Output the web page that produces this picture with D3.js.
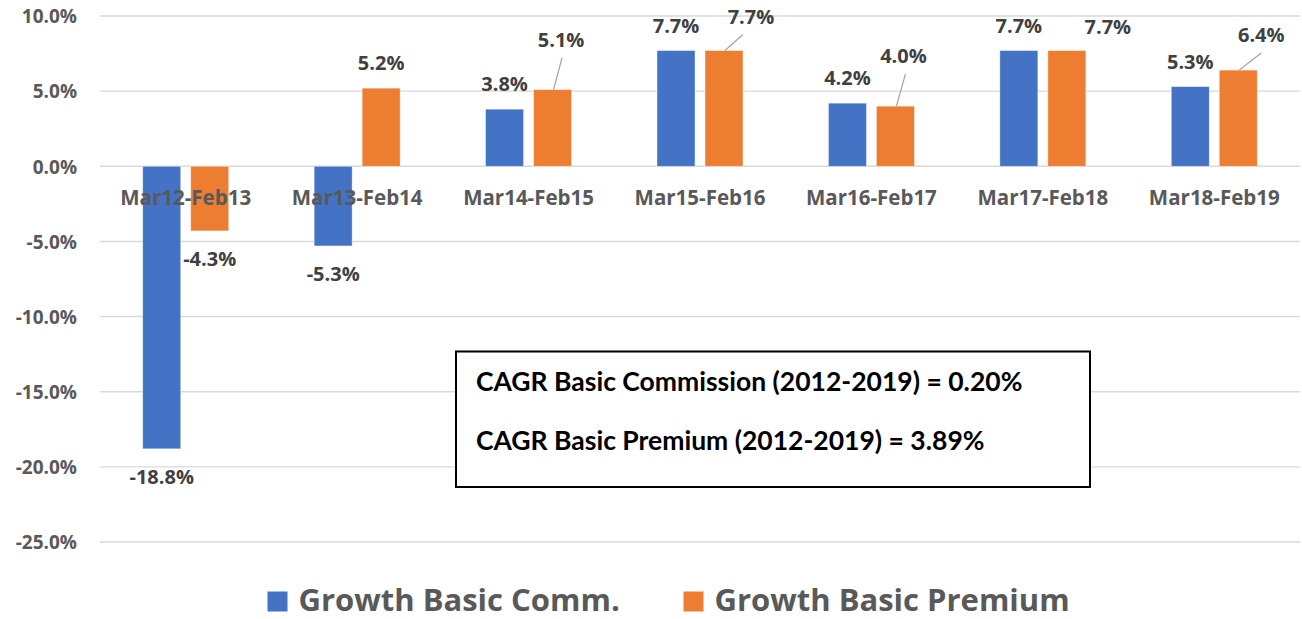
<!DOCTYPE html>
<html>
<head>
<meta charset="utf-8">
<script src="https://cdn.jsdelivr.net/npm/d3@7"></script>
<style>
  html, body { margin: 0; padding: 0; background: #fff; }
  svg { display: block; }
  text { font-family: "Open Sans", "Noto Sans", sans-serif; font-weight: 700; }
</style>
</head>
<body>
<svg id="chart" width="1302" height="619"></svg>
<script>
// ---- data ----
const categories = ["Mar12-Feb13", "Mar13-Feb14", "Mar14-Feb15", "Mar15-Feb16", "Mar16-Feb17", "Mar17-Feb18", "Mar18-Feb19"];
const seriesNames = ["Growth Basic Comm.", "Growth Basic Premium"];
const commGrowth = [-18.8, -5.3, 3.8, 7.7, 4.2, 7.7, 5.3];
const premiumGrowth = [-4.3, 5.2, 5.1, 7.7, 4.0, 7.7, 6.4];
const yTicks = [10, 5, 0, -5, -10, -15, -20, -25];
const noteLines = ["CAGR Basic Commission (2012-2019) = 0.20%", "CAGR Basic Premium (2012-2019) = 3.89%"];

// ---- layout / style ----
const colors = ["#4472C4", "#ED7D31"];
const plot = { left: 100, right: 1300, top: 16, bottom: 542 };
// manual label moves for premium series (dx, dy from default position; leader line end offset)
const premiumLabelMove = [null, null,
  { dx: 8.5, dy: -25, line: true, lx: 1 },
  { dx: 27, dy: -9, line: true, lx: -8 },
  { dx: 8, dy: -25, line: true, lx: 2 },
  { dx: 41, dy: 1, line: false },
  { dx: 23, dy: -10, line: true, lx: 0 }];

const locale = d3.formatLocale({ decimal: ".", thousands: ",", grouping: [3], currency: ["", ""], minus: "-" });
const fmt = d => locale.format(".1f")(d) + "%";

const svg = d3.select("#chart");

const y = d3.scaleLinear().domain([-25, 10]).range([plot.bottom, plot.top]);
const x = d3.scaleBand().domain(categories).range([plot.left, plot.right]).padding(0);
const xi = d3.scaleBand().domain(seriesNames).range([-43, 43]).paddingInner(0.2083).paddingOuter(0);

// gridlines
svg.append("g").selectAll("line").data(yTicks).join("line")
  .attr("x1", plot.left).attr("x2", plot.right)
  .attr("y1", d => y(d)).attr("y2", d => y(d))
  .attr("stroke", "#d9d9d9").attr("stroke-width", 1.4);

// y axis labels
const yAxis = d3.axisLeft(y).tickValues(yTicks).tickFormat(fmt).tickSize(0).tickPadding(0);
const yg = svg.append("g").attr("transform", `translate(77,0)`).call(yAxis);
yg.select(".domain").remove();
yg.selectAll("text").attr("fill", "#595959").style("font-size", "19px")
  .style("font-family", '"Open Sans", sans-serif').style("font-weight", 700).attr("dy", "0.36em");

// bars
const seriesData = [commGrowth, premiumGrowth];
seriesData.forEach((vals, si) => {
  svg.append("g").selectAll("rect").data(vals).join("rect")
    .attr("x", (d, i) => x(categories[i]) + x.bandwidth() / 2 + xi(seriesNames[si]))
    .attr("width", xi.bandwidth())
    .attr("y", d => y(Math.max(0, d)))
    .attr("height", d => Math.abs(y(d) - y(0)))
    .attr("fill", colors[si])
    .attr("stroke", "#ffffff").attr("stroke-opacity", 0.5).attr("stroke-width", 0.8);
});

// category labels (drawn on top of bars)
svg.append("g").selectAll("text").data(categories).join("text")
  .attr("x", d => x(d) + x.bandwidth() / 2)
  .attr("y", 205)
  .attr("text-anchor", "middle")
  .attr("fill", "#595959")
  .style("font-size", "20.5px")
  .text(d => d);

// data labels
seriesData.forEach((vals, si) => {
  const g = svg.append("g");
  vals.forEach((v, i) => {
    const cx = x(categories[i]) + x.bandwidth() / 2 + xi(seriesNames[si]) + xi.bandwidth() / 2;
    let lx = cx;
    let ly = v >= 0 ? y(v) - 18 : y(v) + 35.5;
    const mv = si === 1 ? premiumLabelMove[i] : null;
    if (mv) {
      lx += mv.dx; ly += mv.dy;
      if (mv.line) {
        g.append("line")
          .attr("x1", cx + 1).attr("y1", y(v))
          .attr("x2", lx + mv.lx).attr("y2", ly + 11)
          .attr("stroke", "#a6a6a6").attr("stroke-width", 1.3);
      }
    }
    g.append("text")
      .attr("x", lx).attr("y", ly)
      .attr("text-anchor", "middle")
      .attr("fill", "#404040")
      .style("font-size", "20px")
      .text(fmt(v));
  });
});

// note box
const box = svg.append("g");
box.append("rect").attr("x", 456).attr("y", 351.5).attr("width", 634).attr("height", 135.5)
  .attr("fill", "#fff").attr("stroke", "#000").attr("stroke-width", 2);
box.selectAll("text").data(noteLines).join("text")
  .attr("x", 476).attr("y", (d, i) => 390.5 + i * 59.5)
  .attr("fill", "#000")
  .style("font-family", 'Lato, "Open Sans", sans-serif')
  .style("font-size", "26.5px")
  .text(d => d);

// legend
const legendX = [267.5, 683.5];
const lg = svg.append("g");
seriesNames.forEach((name, si) => {
  lg.append("rect").attr("x", legendX[si]).attr("y", 591.5).attr("width", 20).attr("height", 20).attr("fill", colors[si]);
  lg.append("text").attr("x", legendX[si] + 31).attr("y", 610.5)
    .attr("fill", "#595959")
    .style("font-size", "31px")
    .text(name);
});
</script>
</body>
</html>
